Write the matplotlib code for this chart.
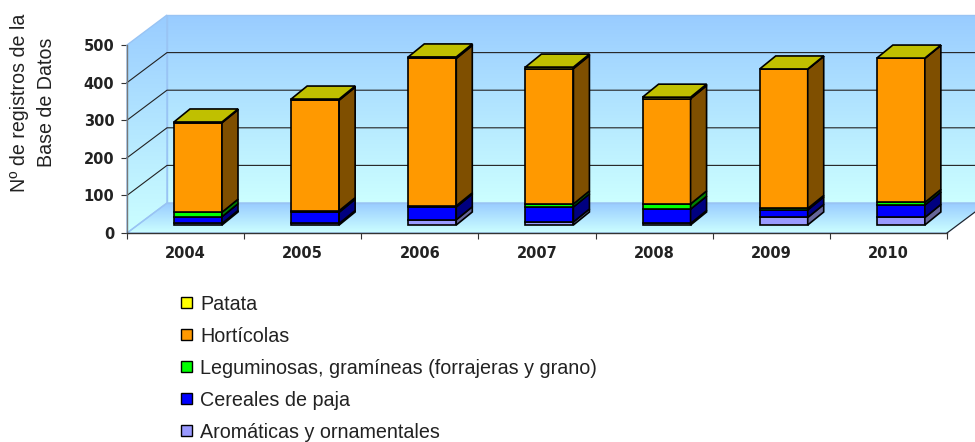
import numpy as np
import matplotlib
matplotlib.use("Agg")
import matplotlib.pyplot as plt
from matplotlib.patches import Polygon, Rectangle
from matplotlib.colors import LinearSegmentedColormap

plt.rcParams['font.family'] = ['Liberation Sans', 'DejaVu Sans']

years = ['2004', '2005', '2006', '2007', '2008', '2009', '2010']
aromaticas = [4, 4, 14, 8, 4, 20, 20]
cereales = [18, 30, 34, 40, 38, 20, 33]
leguminosas = [12, 4, 3, 8, 14, 4, 7]
horticolas = [238, 294, 392, 360, 280, 370, 383]
patata = [2, 3, 4, 4, 4, 1, 1]
y_ticks = [0, 100, 200, 300, 400, 500]
legend_labels = ['Patata', 'Hortícolas', 'Leguminosas, gramíneas (forrajeras y grano)',
                 'Cereales de paja', 'Aromáticas y ornamentales']

W, H = 975, 442
L, R, T, B = 127, 947, 45, 233
fig = plt.figure(figsize=(W / 100, H / 100), dpi=100)
ax = fig.add_axes([L / W, 1 - B / H, (R - L) / W, (B - T) / H])
ax.set_xlim(0, 7)
ax.set_ylim(0, 500)
px = 7 / (R - L)
py = 500 / (B - T)


def wall(pts, top, bottom, z, extent):
    cmap = LinearSegmentedColormap.from_list('w', [top, bottom])
    im = ax.imshow(np.linspace(0, 1, 256).reshape(-1, 1), cmap=cmap, aspect='auto',
                   extent=extent, zorder=z, interpolation='bilinear')
    im.set_clip_box(fig.bbox)
    im.set_clip_path(Polygon(pts, transform=ax.transData))


WX, WY = 40 * px, 30 * py
hi = '#99CCFF'
lo = '#CCFFFF'
back = [(WX, WY), (7 + WX, WY), (7 + WX, 500 + WY), (WX, 500 + WY)]
side = [(0, 0), (WX, WY), (WX, 500 + WY), (0, 500)]
floor = [(0, 0), (7, 0), (7 + WX, WY), (WX, WY)]
wall(back, hi, lo, 1, (WX, 7 + WX, WY, 500 + WY))
wall(side, hi, lo, 1, (0, WX, 0, 500 + WY))
wall(floor, hi, lo, 1, (0, 7 + WX, 0, WY))
ax.set_xlim(0, 7)
ax.set_ylim(0, 500)

edge = '#99C4F4'
ax.add_patch(Polygon(back, fill=False, ec=edge, lw=1, zorder=2, clip_on=False))
ax.add_patch(Polygon(side, fill=False, ec=edge, lw=1, zorder=2, clip_on=False))
ax.add_patch(Polygon(floor, fill=False, ec=edge, lw=1, zorder=2, clip_on=False))
for v in y_ticks[1:-1]:
    ax.plot([0, WX, 7 + WX], [v, v + WY, v + WY], color='#222222', lw=0.8, zorder=3, clip_on=False)
ax.plot([7, 7 + WX], [0, WY], color='#222222', lw=0.8, zorder=3, clip_on=False)

series = [aromaticas, cereales, leguminosas, horticolas, patata]
face = ['#9999FF', '#0000FF', '#00FF00', '#FF9900', '#FFFF00']
dark = ['#666699', '#000080', '#008000', '#7F4F00', '#808000']
top_col = '#C0C000'
bw = 48 * px
dx, dy = 16 * px, 13 * py
ox, oy = 47 * px, 8 * py
lw = 1.2
z = 5
for i in range(len(years)):
    x0 = i + ox
    base = oy
    for vals, f, d in zip(series, face, dark):
        v = vals[i]
        ax.add_patch(Rectangle((x0, base), bw, v, fc=f, ec='black', lw=lw, zorder=z, clip_on=False))
        ax.add_patch(Polygon([(x0 + bw, base), (x0 + bw + dx, base + dy),
                              (x0 + bw + dx, base + v + dy), (x0 + bw, base + v)],
                             fc=d, ec='black', lw=lw, zorder=z, clip_on=False))
        base += v
    ax.add_patch(Polygon([(x0, base), (x0 + bw, base), (x0 + bw + dx, base + dy), (x0 + dx, base + dy)],
                         fc=top_col, ec='black', lw=lw, zorder=z, clip_on=False))

for s in ['top', 'right']:
    ax.spines[s].set_visible(False)
ax.spines['left'].set_color('#777777')
ax.spines['left'].set_linewidth(1.0)
ax.spines['left'].set_zorder(4)
ax.spines['bottom'].set_color('#333333')
ax.spines['bottom'].set_linewidth(1.0)
ax.spines['bottom'].set_zorder(4)
ax.set_xticks(range(8))
ax.set_xticks(np.arange(7) + 0.5, labels=years, minor=True)
ax.set_xticklabels([])
ax.set_yticks(y_ticks)
ax.tick_params(axis='x', which='major', length=4, width=0.8, color='#333333')
ax.tick_params(axis='x', which='minor', length=0, pad=9.5, labelsize=10.5)
ax.tick_params(axis='y', length=4, width=0.8, color='#333333', pad=5, labelsize=10.5)
for t in ax.get_xticklabels(minor=True) + ax.get_yticklabels():
    t.set_fontweight('bold')
    t.set_fontfamily(['DejaVu Sans'])
    t.set_color('#222222')

fig.text(20 / W, 1 - 103 / H, 'Nº de registros de la', rotation=90, ha='center', va='center', fontsize=14.1, color='#222222')
fig.text(47 / W, 1 - 102 / H, 'Base de Datos', rotation=90, ha='center', va='center', fontsize=14.1, color='#222222')

for k, (lab, col) in enumerate(zip(legend_labels, face[::-1])):
    yc = 304.5 + 32 * k
    fig.add_artist(Rectangle((181 / W, 1 - (303 + 32 * k + 5) / H), 11 / W, 11 / H, fc=col, ec='black', lw=1.0,
                             transform=fig.transFigure))
    fig.text(200 / W, 1 - yc / H, lab, ha='left', va='center', fontsize=14.2, color='#222222')

fig.savefig('out.png', dpi=100)
